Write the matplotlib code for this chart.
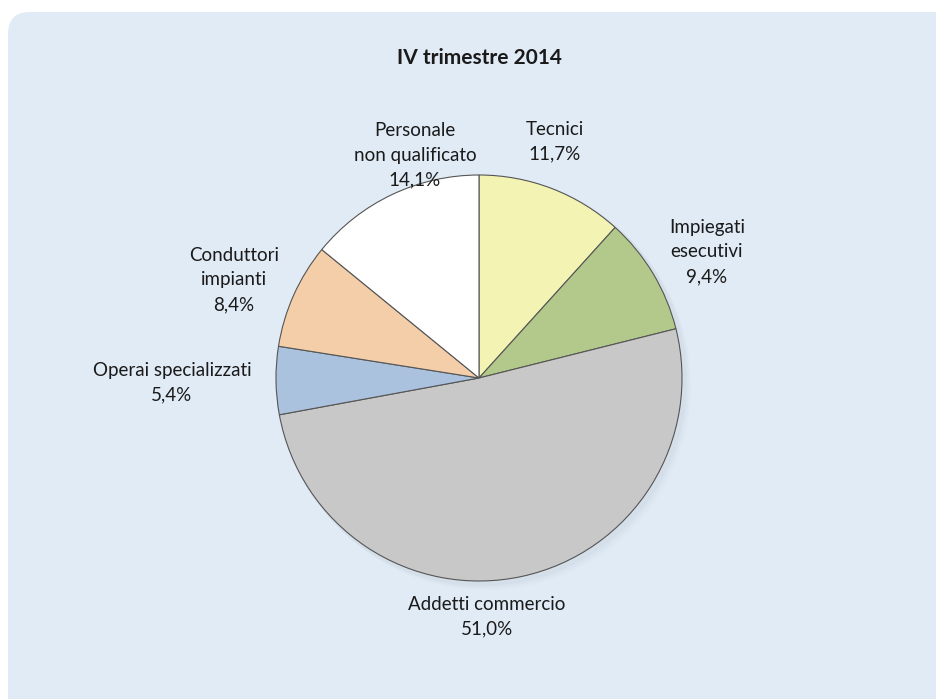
import matplotlib.pyplot as plt
from matplotlib.patches import FancyBboxPatch

# data
categories = ['Tecnici', 'Impiegati\nesecutivi', 'Addetti commercio', 'Operai specializzati',
              'Conduttori\nimpianti', 'Personale\nnon qualificato']
values = [11.7, 9.4, 51.0, 5.4, 8.4, 14.1]
colors = ['#F3F3B3', '#B3C98B', '#C8C8C8', '#AAC2DD', '#F3CEA9', '#FFFFFF']
title = 'IV trimestre 2014'

plt.rcParams['font.family'] = ['Lato', 'DejaVu Sans']

W, H = 937, 699
fig = plt.figure(figsize=(W / 100, H / 100), dpi=100)
ax = fig.add_axes([0, 0, 1, 1])
ax.set_xlim(0, W)
ax.set_ylim(0, H)
ax.set_aspect('equal')
ax.axis('off')

# light blue rounded panel
panel = FancyBboxPatch((8, -40), W + 40, H - 12 + 40,
                       boxstyle='round,pad=0,rounding_size=22',
                       facecolor='#E1EBF5', edgecolor='none', zorder=0)
ax.add_patch(panel)

cx, cy, r = 479, H - 378, 203

# soft shadow
for i, a in enumerate([0.05, 0.04, 0.03]):
    sh = plt.Circle((cx + 3 + i * 2, cy - 3 - i * 2), r + 2, color='#8090a0', alpha=a, lw=0, zorder=1)
    ax.add_patch(sh)

ax.pie(values, colors=colors, startangle=90, counterclock=False,
       center=(cx, cy), radius=r, frame=True,
       wedgeprops=dict(edgecolor='#555555', linewidth=0.8, zorder=2))
ax.set_xlim(0, W)
ax.set_ylim(0, H)
ax.axis('off')

ax.text(479, H - 58, title, ha='center', va='center', fontsize=15, fontweight='bold', color='#1a1a1a')

label_pos = [(555, 142), (707, 252), (487, 617), (172, 383), (234, 280), (415, 155)]
for name, v, (x, y) in zip(categories, values, label_pos):
    txt = name + '\n' + f'{v:.1f}'.replace('.', ',') + '%'
    ax.text(x, H - y, txt, ha='center', va='center', fontsize=13.5, color='#1a1a1a', linespacing=1.55)

fig.savefig('out.png', dpi=100)
